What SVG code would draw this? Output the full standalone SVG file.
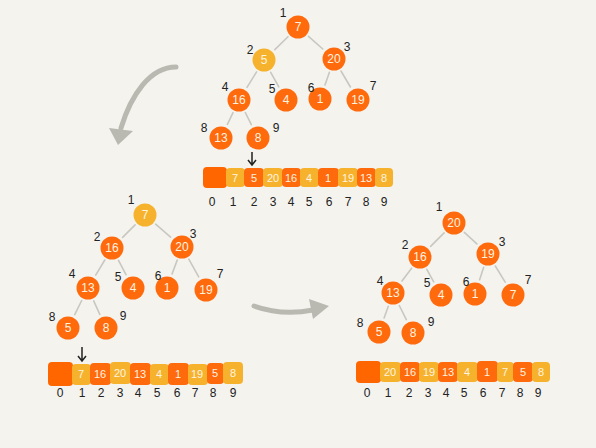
<svg xmlns="http://www.w3.org/2000/svg" width="596" height="448" viewBox="0 0 596 448">
<defs>
<style>
.o{fill:#ff6a0d}
.y{fill:#f6b22c}
.c0{fill:#ff6600}
.t{font-family:"Liberation Sans",Arial,sans-serif;font-size:12px;fill:#fff4e0;text-anchor:middle;dominant-baseline:central}
.ct{font-family:"Liberation Sans",Arial,sans-serif;font-size:11px;fill:#fff4e0;text-anchor:middle;dominant-baseline:central}
.n{font-family:"Liberation Sans",Arial,sans-serif;font-size:12px;fill:#222;text-anchor:middle;dominant-baseline:central}
.e{stroke:#c8c8c1;stroke-width:1.6;fill:none;stroke-linecap:round}
.ga{stroke:#b9b9b1;stroke-width:5;fill:none;stroke-linecap:round}
.gh{fill:#b9b9b1}
.da{stroke:#222;stroke-width:1.5;fill:none}
</style>
</defs>
<rect width="596" height="448" fill="#f4f3ee"/>

<g id="connectors">
<!-- top tree -->
<line class="e" x1="288" y1="36.7" x2="274.8" y2="49.6"/>
<line class="e" x1="308.5" y1="36.3" x2="322.8" y2="49"/>
<line class="e" x1="256.6" y1="71.9" x2="247" y2="87.3"/>
<line class="e" x1="270.7" y1="72.3" x2="278.8" y2="86.9"/>
<line class="e" x1="329.4" y1="72.2" x2="325" y2="84.9"/>
<line class="e" x1="341" y1="71" x2="350.4" y2="87"/>
<line class="e" x1="233" y1="112.7" x2="227.4" y2="124.4"/>
<line class="e" x1="245.3" y1="112.5" x2="251.3" y2="124.6"/>
<!-- left tree -->
<line class="e" x1="135.1" y1="224.9" x2="122.6" y2="237.4"/>
<line class="e" x1="155.6" y1="224.2" x2="170.6" y2="237.2"/>
<line class="e" x1="104.8" y1="260" x2="95.7" y2="275.1"/>
<line class="e" x1="118.5" y1="260.4" x2="126" y2="274.7"/>
<line class="e" x1="177.2" y1="260.1" x2="172.1" y2="273.9"/>
<line class="e" x1="188.8" y1="259.2" x2="198.7" y2="276.9"/>
<line class="e" x1="81.7" y1="300.5" x2="74.7" y2="314.6"/>
<line class="e" x1="93.7" y1="300.8" x2="99.8" y2="314.3"/>
<!-- right tree -->
<line class="e" x1="444.1" y1="232.9" x2="430.6" y2="246.4"/>
<line class="e" x1="464.3" y1="232.4" x2="476.9" y2="243.9"/>
<line class="e" x1="411.6" y1="268.2" x2="402" y2="281"/>
<line class="e" x1="426.8" y1="269.3" x2="433.7" y2="281.9"/>
<line class="e" x1="483.7" y1="267.3" x2="479.6" y2="279.7"/>
<line class="e" x1="495.3" y1="266" x2="505.2" y2="282.2"/>
<line class="e" x1="388.3" y1="306.2" x2="384.1" y2="317.9"/>
<line class="e" x1="399.3" y1="305.5" x2="406.3" y2="319.6"/>
<!-- big gray arrows -->
<path class="ga" d="M176,67 C150,67 131,95 121,128"/>
<polygon class="gh" points="109,128 133,131 118,145"/>
<path class="ga" d="M254,306 Q282,316 313,310"/>
<polygon class="gh" points="309,299 329,306 313,319"/>
<!-- small down arrows -->
<path class="da" d="M252,152 L252,165 M248,160 L252,165 L256,160"/>
<path class="da" d="M82,347 L82,361 M78,356 L82,361 L86,356"/>
</g>

<!-- Top tree -->
<g id="top-n1"><circle class="o" cx="298" cy="27" r="11.5"/><text class="t" x="298" y="27">7</text><text class="n" x="283" y="13">1</text></g>
<g id="top-n2"><circle class="y" cx="264" cy="60" r="11.5"/><text class="t" x="264" y="60">5</text><text class="n" x="250" y="50">2</text></g>
<g id="top-n3"><circle class="o" cx="334" cy="59" r="11.5"/><text class="t" x="334" y="59">20</text><text class="n" x="347" y="47">3</text></g>
<g id="top-n4"><circle class="o" cx="239" cy="100" r="11.5"/><text class="t" x="239" y="100">16</text><text class="n" x="225" y="87">4</text></g>
<g id="top-n5"><circle class="o" cx="286" cy="100" r="11.5"/><text class="t" x="286" y="100">4</text><text class="n" x="272" y="89">5</text></g>
<g id="top-n6"><circle class="o" cx="320" cy="99" r="11.5"/><text class="t" x="320" y="99">1</text><text class="n" x="311" y="88">6</text></g>
<g id="top-n7"><circle class="o" cx="358" cy="100" r="11.5"/><text class="t" x="358" y="100">19</text><text class="n" x="373" y="86">7</text></g>
<g id="top-n8"><circle class="o" cx="221" cy="138" r="11.5"/><text class="t" x="221" y="138">13</text><text class="n" x="204" y="128">8</text></g>
<g id="top-n9"><circle class="o" cx="258" cy="138" r="11.5"/><text class="t" x="258" y="138">8</text><text class="n" x="276" y="128">9</text></g>

<!-- Top array -->
<g id="top-array">
<rect class="c0" x="203" y="167" width="24" height="21" rx="4"/>
<rect class="y" x="226" y="168" width="19" height="19" rx="4"/>
<rect class="o" x="244" y="168" width="20" height="19" rx="4"/>
<rect class="y" x="263" y="168" width="20" height="19" rx="4"/>
<rect class="o" x="282" y="168" width="19" height="19" rx="4"/>
<rect class="y" x="300" y="168" width="19" height="19" rx="4"/>
<rect class="o" x="318" y="168" width="21" height="19" rx="4"/>
<rect class="y" x="338" y="168" width="20" height="19" rx="4"/>
<rect class="o" x="357" y="168" width="19" height="19" rx="4"/>
<rect class="y" x="375" y="168" width="18" height="19" rx="4"/>
<text class="ct" x="235" y="178">7</text>
<text class="ct" x="254" y="178">5</text>
<text class="ct" x="273" y="178">20</text>
<text class="ct" x="291" y="178">16</text>
<text class="ct" x="309" y="178">4</text>
<text class="ct" x="328" y="178">1</text>
<text class="ct" x="348" y="178">19</text>
<text class="ct" x="366" y="178">13</text>
<text class="ct" x="384" y="178">8</text>
<text class="n" x="212" y="202">0</text>
<text class="n" x="233" y="202">1</text>
<text class="n" x="254" y="202">2</text>
<text class="n" x="273" y="202">3</text>
<text class="n" x="291" y="202">4</text>
<text class="n" x="309" y="202">5</text>
<text class="n" x="329" y="202">6</text>
<text class="n" x="348" y="202">7</text>
<text class="n" x="366" y="202">8</text>
<text class="n" x="384" y="202">9</text>
</g>

<!-- Left tree -->
<g id="left-n1"><circle class="y" cx="145" cy="215" r="11.5"/><text class="t" x="145" y="215">7</text><text class="n" x="131" y="200">1</text></g>
<g id="left-n2"><circle class="o" cx="112" cy="248" r="11.5"/><text class="t" x="112" y="248">16</text><text class="n" x="97" y="237">2</text></g>
<g id="left-n3"><circle class="o" cx="182" cy="247" r="11.5"/><text class="t" x="182" y="247">20</text><text class="n" x="193" y="234">3</text></g>
<g id="left-n4"><circle class="o" cx="88" cy="288" r="11.5"/><text class="t" x="88" y="288">13</text><text class="n" x="72" y="274">4</text></g>
<g id="left-n5"><circle class="o" cx="133" cy="288" r="11.5"/><text class="t" x="133" y="288">4</text><text class="n" x="118" y="277">5</text></g>
<g id="left-n6"><circle class="o" cx="167" cy="288" r="11.5"/><text class="t" x="167" y="288">1</text><text class="n" x="158" y="276">6</text></g>
<g id="left-n7"><circle class="o" cx="206" cy="290" r="11.5"/><text class="t" x="206" y="290">19</text><text class="n" x="220" y="274">7</text></g>
<g id="left-n8"><circle class="o" cx="68" cy="328" r="11.5"/><text class="t" x="68" y="328">5</text><text class="n" x="52" y="317">8</text></g>
<g id="left-n9"><circle class="o" cx="106" cy="328" r="11.5"/><text class="t" x="106" y="328">8</text><text class="n" x="123" y="316">9</text></g>

<!-- Left array -->
<g id="left-array">
<rect class="c0" x="48" y="362" width="25" height="24" rx="4"/>
<rect class="y" x="72" y="364" width="19" height="21" rx="4"/>
<rect class="o" x="90" y="363" width="21" height="22" rx="4"/>
<rect class="y" x="110" y="362" width="21" height="22" rx="4"/>
<rect class="o" x="130" y="363" width="21" height="22" rx="4"/>
<rect class="y" x="150" y="364" width="19" height="21" rx="4"/>
<rect class="o" x="168" y="363" width="21" height="22" rx="4"/>
<rect class="y" x="188" y="364" width="20" height="21" rx="4"/>
<rect class="o" x="207" y="363" width="17" height="21" rx="4"/>
<rect class="y" x="223" y="362" width="20" height="22" rx="4"/>
<text class="ct" x="81" y="374">7</text>
<text class="ct" x="100" y="374">16</text>
<text class="ct" x="120" y="373">20</text>
<text class="ct" x="140" y="374">13</text>
<text class="ct" x="159" y="374">4</text>
<text class="ct" x="178" y="374">1</text>
<text class="ct" x="197" y="374">19</text>
<text class="ct" x="215" y="373">5</text>
<text class="ct" x="233" y="373">8</text>
<text class="n" x="60" y="393">0</text>
<text class="n" x="82" y="393">1</text>
<text class="n" x="101" y="393">2</text>
<text class="n" x="120" y="393">3</text>
<text class="n" x="138" y="393">4</text>
<text class="n" x="157" y="393">5</text>
<text class="n" x="177" y="393">6</text>
<text class="n" x="195" y="393">7</text>
<text class="n" x="213" y="393">8</text>
<text class="n" x="233" y="393">9</text>
</g>

<!-- Right tree -->
<g id="right-n1"><circle class="o" cx="454" cy="223" r="11.5"/><text class="t" x="454" y="223">20</text><text class="n" x="439" y="207">1</text></g>
<g id="right-n2"><circle class="o" cx="420" cy="257" r="11.5"/><text class="t" x="420" y="257">16</text><text class="n" x="405" y="245">2</text></g>
<g id="right-n3"><circle class="o" cx="488" cy="254" r="11.5"/><text class="t" x="488" y="254">19</text><text class="n" x="502" y="242">3</text></g>
<g id="right-n4"><circle class="o" cx="393" cy="293" r="11.5"/><text class="t" x="393" y="293">13</text><text class="n" x="380" y="281">4</text></g>
<g id="right-n5"><circle class="o" cx="441" cy="295" r="11.5"/><text class="t" x="441" y="295">4</text><text class="n" x="427" y="283">5</text></g>
<g id="right-n6"><circle class="o" cx="475" cy="294" r="11.5"/><text class="t" x="475" y="294">1</text><text class="n" x="466" y="282">6</text></g>
<g id="right-n7"><circle class="o" cx="513" cy="295" r="11.5"/><text class="t" x="513" y="295">7</text><text class="n" x="528" y="280">7</text></g>
<g id="right-n8"><circle class="o" cx="379" cy="332" r="11.5"/><text class="t" x="379" y="332">5</text><text class="n" x="360" y="323">8</text></g>
<g id="right-n9"><circle class="o" cx="413" cy="333" r="11.5"/><text class="t" x="413" y="333">8</text><text class="n" x="431" y="322">9</text></g>

<!-- Right array -->
<g id="right-array">
<rect class="c0" x="356" y="361" width="25" height="22" rx="4"/>
<rect class="y" x="380" y="362" width="21" height="20" rx="4"/>
<rect class="o" x="400" y="362" width="20" height="20" rx="4"/>
<rect class="y" x="419" y="362" width="20" height="20" rx="4"/>
<rect class="o" x="438" y="362" width="20" height="20" rx="4"/>
<rect class="y" x="457" y="362" width="21" height="20" rx="4"/>
<rect class="o" x="477" y="361" width="21" height="21" rx="4"/>
<rect class="y" x="497" y="362" width="17" height="20" rx="4"/>
<rect class="o" x="513" y="362" width="20" height="20" rx="4"/>
<rect class="y" x="532" y="362" width="18" height="20" rx="4"/>
<text class="ct" x="390" y="372">20</text>
<text class="ct" x="410" y="372">16</text>
<text class="ct" x="429" y="372">19</text>
<text class="ct" x="448" y="372">13</text>
<text class="ct" x="467" y="372">4</text>
<text class="ct" x="487" y="372">1</text>
<text class="ct" x="505" y="372">7</text>
<text class="ct" x="523" y="372">5</text>
<text class="ct" x="541" y="372">8</text>
<text class="n" x="367" y="393">0</text>
<text class="n" x="388" y="393">1</text>
<text class="n" x="409" y="393">2</text>
<text class="n" x="428" y="393">3</text>
<text class="n" x="446" y="393">4</text>
<text class="n" x="464" y="393">5</text>
<text class="n" x="483" y="393">6</text>
<text class="n" x="502" y="393">7</text>
<text class="n" x="520" y="393">8</text>
<text class="n" x="538" y="393">9</text>
</g>
</svg>
